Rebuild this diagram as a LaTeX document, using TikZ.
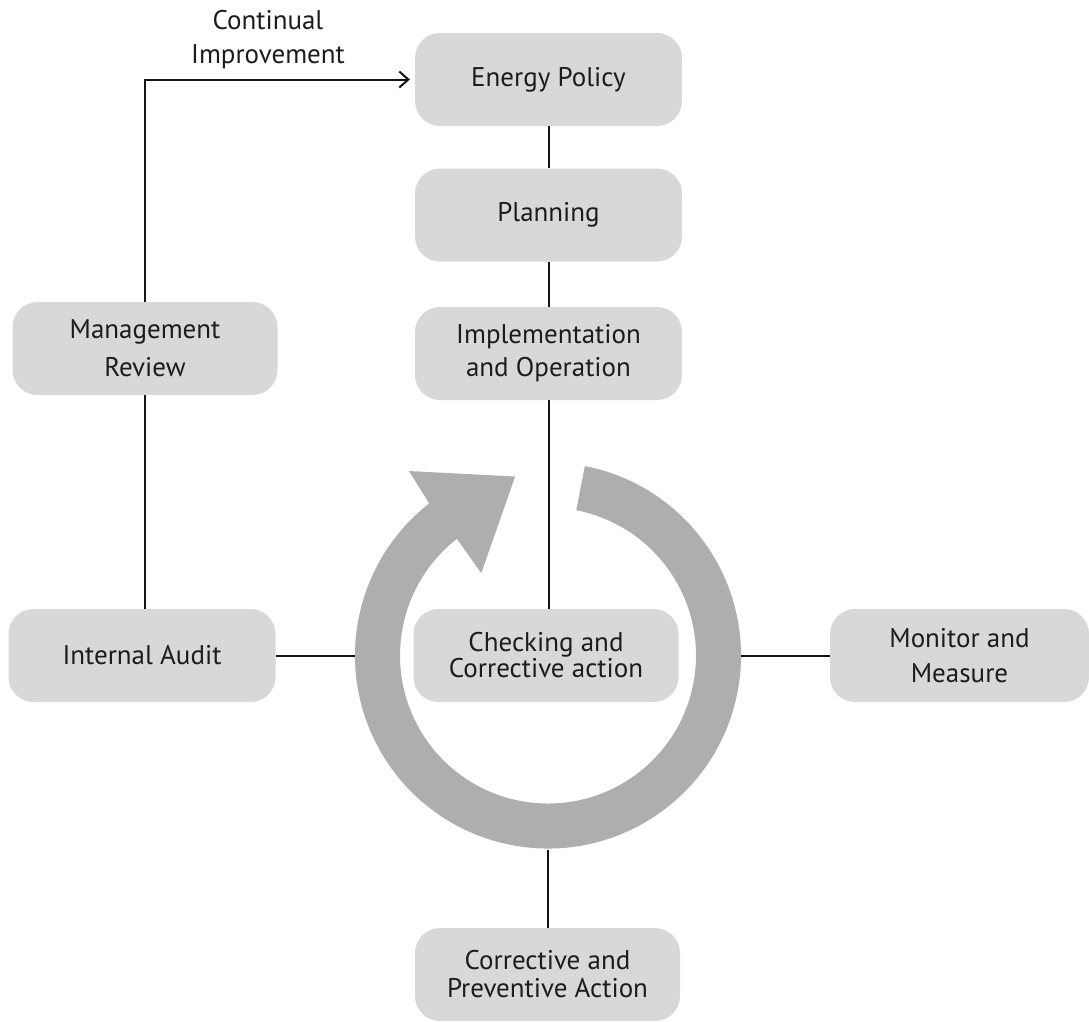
\documentclass[tikz,border=0pt]{standalone}
\usepackage{fontspec}
\setmainfont{PT Sans}
\usetikzlibrary{arrows.meta,calc}
\definecolor{boxgray}{RGB}{216,216,216}
\definecolor{ringgray}{RGB}{174,174,174}
\definecolor{txt}{RGB}{28,28,28}
\definecolor{ln}{RGB}{20,20,20}
\tikzset{
  boxnode/.style={rounded corners=25pt, fill=boxgray, minimum width=267pt, minimum height=93pt,
    inner sep=0pt, align=center, text=txt, font=\fontsize{27}{33}\selectfont},
  conn/.style={draw=ln, line width=2pt},
}
\begin{document}
\begin{tikzpicture}[x=1pt,y=1pt,yscale=-1]
\useasboundingbox (0,0) rectangle (1089,1021);
% ring arrow
\coordinate (C) at (548,655.5);
\fill[ringgray] ($(C)+(-79:193)$) arc[start angle=-79, end angle=232, radius=193]
  -- ($(C)+(-127:231)$) -- ($(C)+(-100.4:182)$) -- ($(C)+(-129:106)$)
  -- ($(C)+(-128:148)$) arc[start angle=232, end angle=-79, radius=148] -- cycle;
\coordinate (ringW) at ($(C)+(-193,0)$);
\coordinate (ringE) at ($(C)+(193,0)$);
\coordinate (ringS) at ($(C)+(0,194)$);
% nodes
\node[boxnode] (pol) at (548.5,79.5) {Energy Policy};
\node[boxnode] (plan) at (548.5,215) {Planning};
\node[boxnode] (impl) at (548.5,353.5) {Implementation\\and Operation};
\node[boxnode, minimum width=265pt, font=\fontsize{27}{38}\selectfont] (mgmt) at (145,348.5) {Management\\Review};
\node[boxnode] (audit) at (142,655.5) {Internal Audit};
\node[boxnode, minimum width=265pt, font=\fontsize{27}{24}\selectfont] (check) at (546,655.5) {Checking and\\Corrective action};
\node[boxnode, minimum width=259pt, font=\fontsize{27}{35}\selectfont] (mon) at (959.5,655.5) {Monitor and\\Measure};
\node[boxnode, minimum width=265pt, font=\fontsize{27}{28}\selectfont] (corr) at (547.5,974.5) {Corrective and\\Preventive Action};
\node[align=center, text=txt, font=\fontsize{27}{34}\selectfont] (lbl) at (268,40) {Continual\\Improvement};
% connectors
\draw[conn] (pol.south) -- (plan.north);
\draw[conn] (plan.south) -- (impl.north);
\draw[conn] (impl.south) -- (impl.south |- check.north);
\draw[conn] (audit.east) -- (ringW);
\draw[conn] (ringE) -- (mon.west);
\draw[conn] (ringS) -- (ringS |- corr.north);
\draw[conn] (mgmt.south) -- (mgmt.south |- audit.north);
\draw[conn, -{Straight Barb[length=9pt,width=16pt,line width=2pt]}, shorten >=5pt] (mgmt.north) -- (mgmt.north |- pol.west) -- (pol.west);
\end{tikzpicture}
\end{document}
